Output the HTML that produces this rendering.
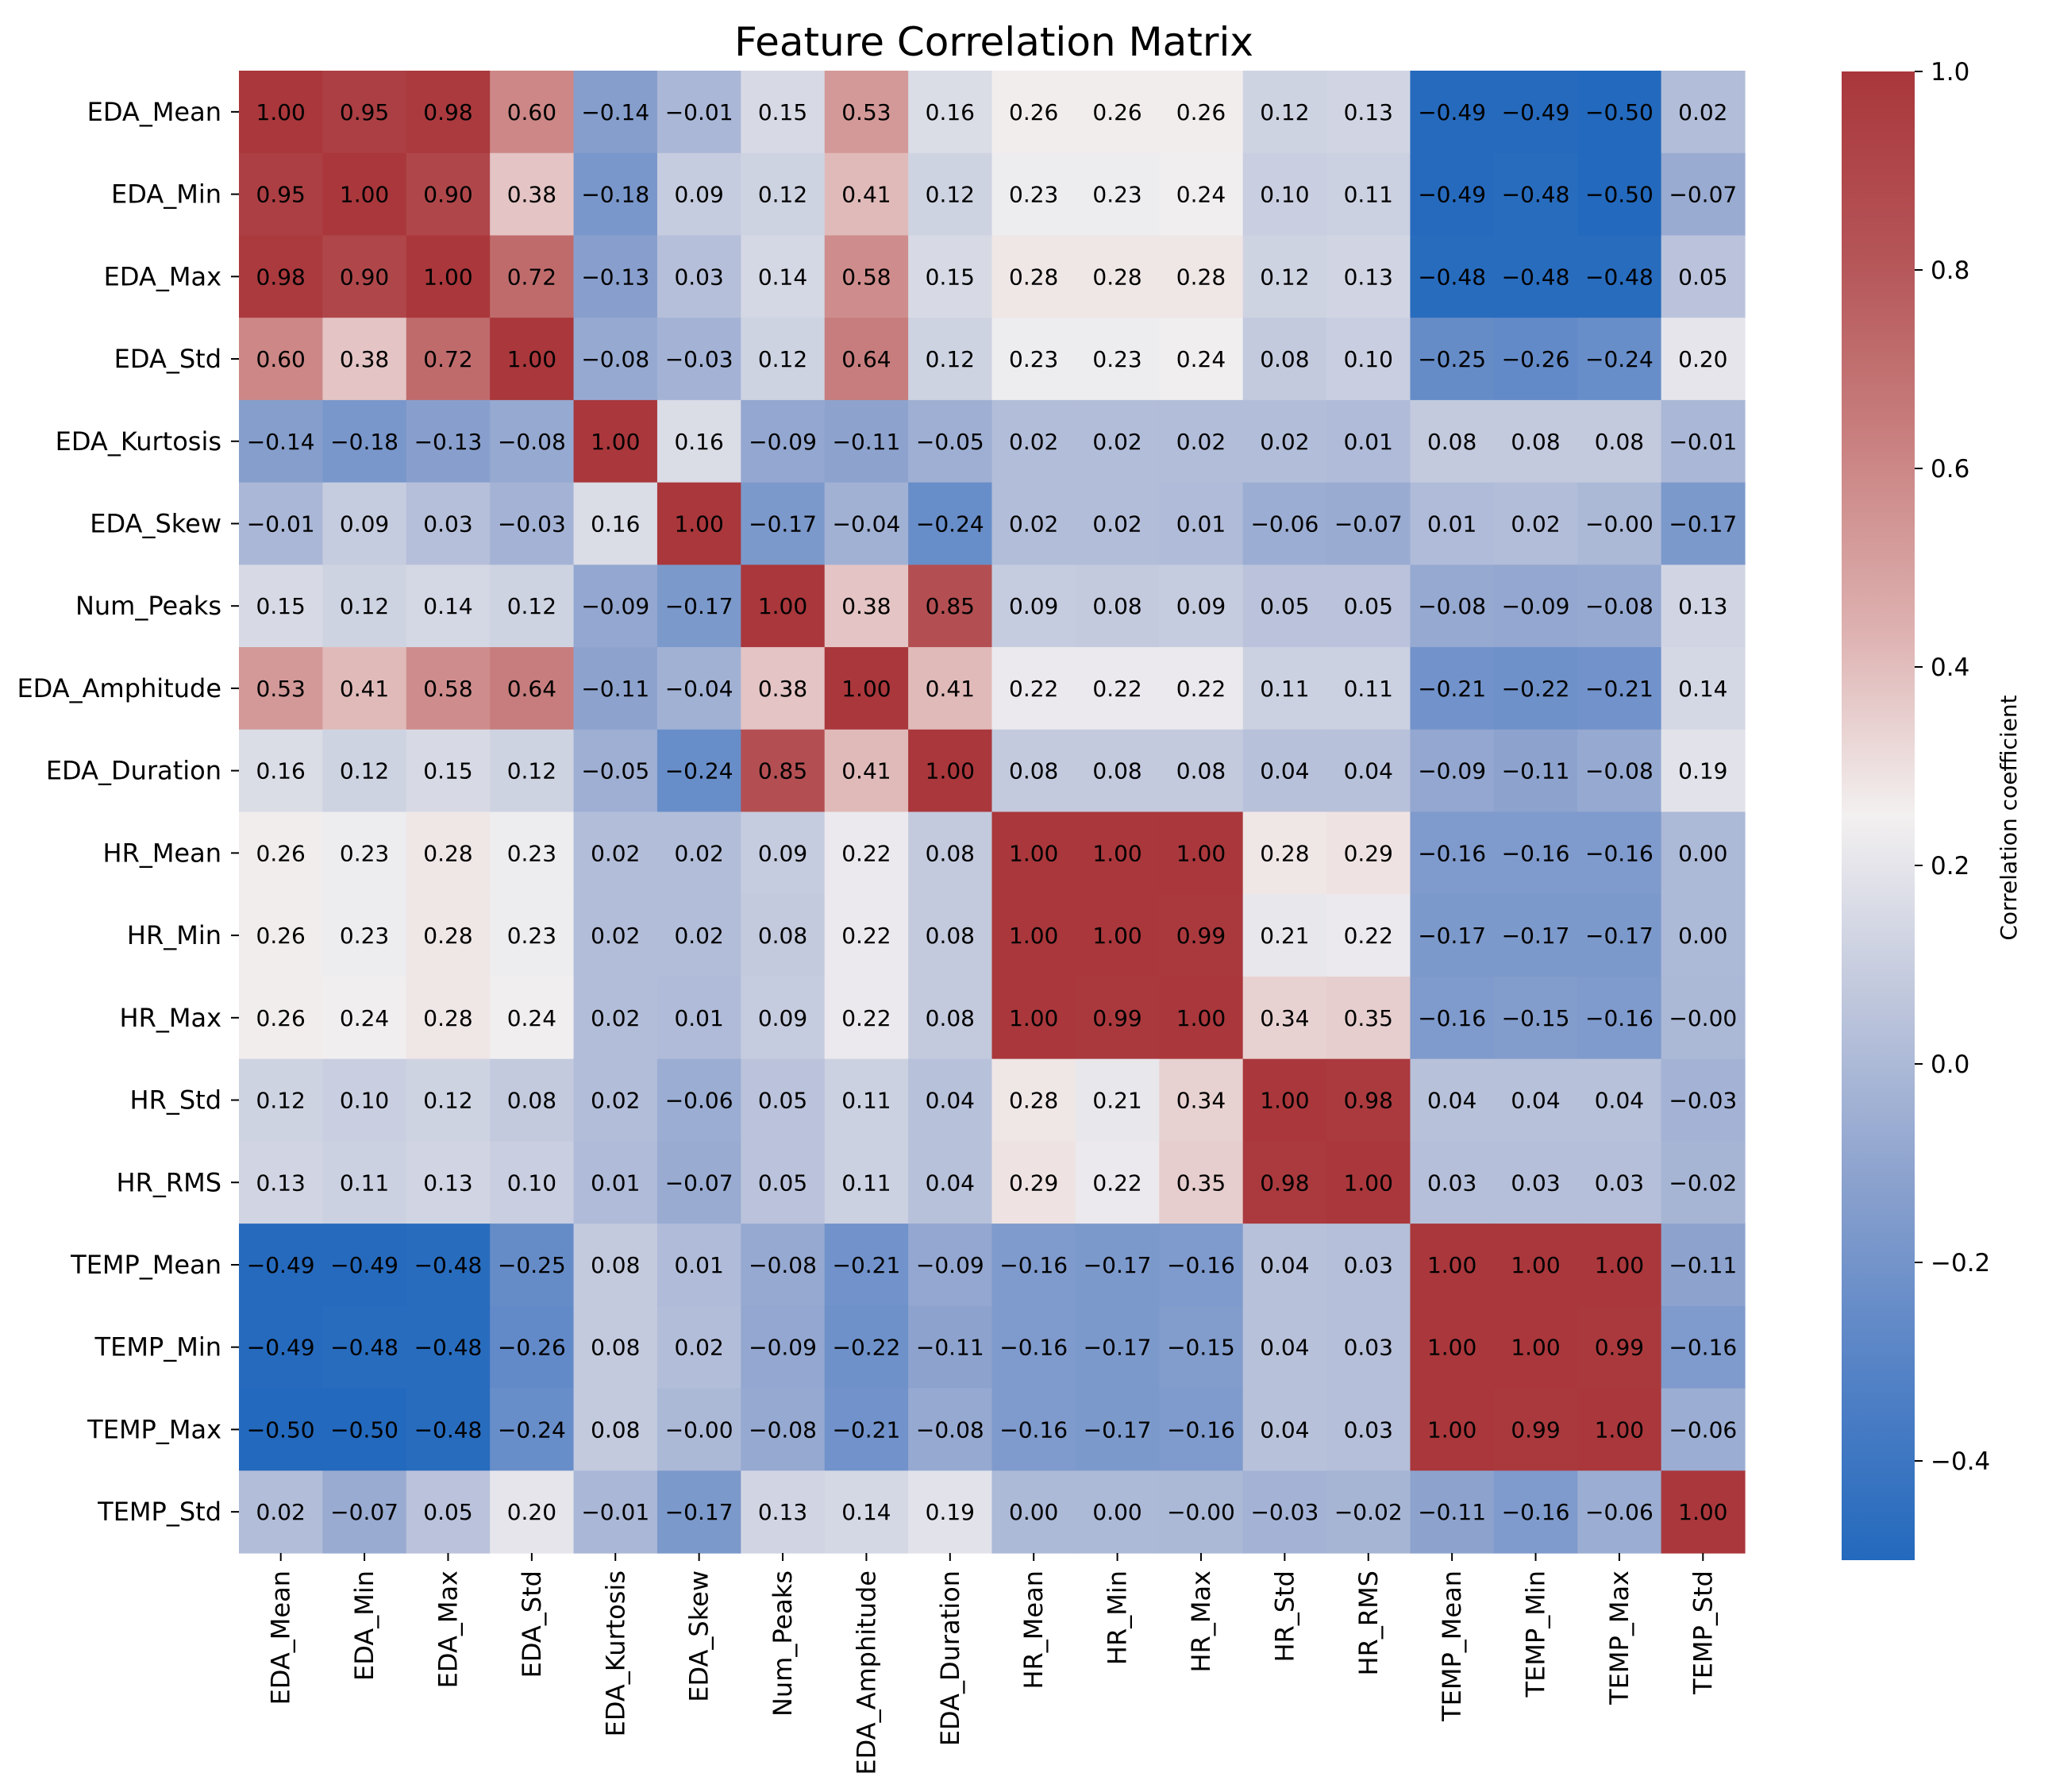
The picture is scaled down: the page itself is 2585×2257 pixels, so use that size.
<!DOCTYPE html>
<html><head><meta charset="utf-8">
<style>
html,body{margin:0;padding:0;background:#fff;}
svg{display:block;font-family:"DejaVu Sans","Liberation Sans",sans-serif;}
</style></head>
<body>
<svg id="chart" width="2585" height="2257" viewBox="0 0 2585 2257" xmlns="http://www.w3.org/2000/svg">
<rect width="2585" height="2257" fill="#fff"/>
<text x="1252" y="70" font-size="50" text-anchor="middle" fill="#000">Feature Correlation Matrix</text>
<g id="cells"></g>
<g id="annots"></g>
<g id="yaxis"></g>
<g id="xaxis"></g>
<defs>
<linearGradient id="cbgrad" x1="0" y1="1" x2="0" y2="0"></linearGradient>
</defs>
<rect x="2320" y="90" width="92" height="1875" fill="url(#cbgrad)"/>
<g id="cbaxis"></g>
<text x="0" y="0" font-size="28" text-anchor="middle" fill="#000" transform="translate(2540,1030) rotate(-90)">Correlation coefficient</text>
</svg>
<script>
const labels = ["EDA_Mean","EDA_Min","EDA_Max","EDA_Std","EDA_Kurtosis","EDA_Skew","Num_Peaks","EDA_Amphitude","EDA_Duration","HR_Mean","HR_Min","HR_Max","HR_Std","HR_RMS","TEMP_Mean","TEMP_Min","TEMP_Max","TEMP_Std"];
const rowEDA_Mean = [1.00,0.95,0.98,0.60,-0.14,-0.01,0.15,0.53,0.16,0.26,0.26,0.26,0.12,0.13,-0.49,-0.49,-0.50,0.02];
const rowEDA_Min = [0.95,1.00,0.90,0.38,-0.18,0.09,0.12,0.41,0.12,0.23,0.23,0.24,0.10,0.11,-0.49,-0.48,-0.50,-0.07];
const rowEDA_Max = [0.98,0.90,1.00,0.72,-0.13,0.03,0.14,0.58,0.15,0.28,0.28,0.28,0.12,0.13,-0.48,-0.48,-0.48,0.05];
const rowEDA_Std = [0.60,0.38,0.72,1.00,-0.08,-0.03,0.12,0.64,0.12,0.23,0.23,0.24,0.08,0.10,-0.25,-0.26,-0.24,0.20];
const rowEDA_Kurtosis = [-0.14,-0.18,-0.13,-0.08,1.00,0.16,-0.09,-0.11,-0.05,0.02,0.02,0.02,0.02,0.01,0.08,0.08,0.08,-0.01];
const rowEDA_Skew = [-0.01,0.09,0.03,-0.03,0.16,1.00,-0.17,-0.04,-0.24,0.02,0.02,0.01,-0.06,-0.07,0.01,0.02,-0.004,-0.17];
const rowNum_Peaks = [0.15,0.12,0.14,0.12,-0.09,-0.17,1.00,0.38,0.85,0.09,0.08,0.09,0.05,0.05,-0.08,-0.09,-0.08,0.13];
const rowEDA_Amphitude = [0.53,0.41,0.58,0.64,-0.11,-0.04,0.38,1.00,0.41,0.22,0.22,0.22,0.11,0.11,-0.21,-0.22,-0.21,0.14];
const rowEDA_Duration = [0.16,0.12,0.15,0.12,-0.05,-0.24,0.85,0.41,1.00,0.08,0.08,0.08,0.04,0.04,-0.09,-0.11,-0.08,0.19];
const rowHR_Mean = [0.26,0.23,0.28,0.23,0.02,0.02,0.09,0.22,0.08,1.00,1.00,1.00,0.28,0.29,-0.16,-0.16,-0.16,0.00];
const rowHR_Min = [0.26,0.23,0.28,0.23,0.02,0.02,0.08,0.22,0.08,1.00,1.00,0.99,0.21,0.22,-0.17,-0.17,-0.17,0.00];
const rowHR_Max = [0.26,0.24,0.28,0.24,0.02,0.01,0.09,0.22,0.08,1.00,0.99,1.00,0.34,0.35,-0.16,-0.15,-0.16,-0.004];
const rowHR_Std = [0.12,0.10,0.12,0.08,0.02,-0.06,0.05,0.11,0.04,0.28,0.21,0.34,1.00,0.98,0.04,0.04,0.04,-0.03];
const rowHR_RMS = [0.13,0.11,0.13,0.10,0.01,-0.07,0.05,0.11,0.04,0.29,0.22,0.35,0.98,1.00,0.03,0.03,0.03,-0.02];
const rowTEMP_Mean = [-0.49,-0.49,-0.48,-0.25,0.08,0.01,-0.08,-0.21,-0.09,-0.16,-0.17,-0.16,0.04,0.03,1.00,1.00,1.00,-0.11];
const rowTEMP_Min = [-0.49,-0.48,-0.48,-0.26,0.08,0.02,-0.09,-0.22,-0.11,-0.16,-0.17,-0.15,0.04,0.03,1.00,1.00,0.99,-0.16];
const rowTEMP_Max = [-0.50,-0.50,-0.48,-0.24,0.08,-0.004,-0.08,-0.21,-0.08,-0.16,-0.17,-0.16,0.04,0.03,1.00,0.99,1.00,-0.06];
const rowTEMP_Std = [0.02,-0.07,0.05,0.20,-0.01,-0.17,0.13,0.14,0.19,0.00,0.00,-0.004,-0.03,-0.02,-0.11,-0.16,-0.06,1.00];
const matrix = [rowEDA_Mean,rowEDA_Min,rowEDA_Max,rowEDA_Std,rowEDA_Kurtosis,rowEDA_Skew,rowNum_Peaks,rowEDA_Amphitude,rowEDA_Duration,rowHR_Mean,rowHR_Min,rowHR_Max,rowHR_Std,rowHR_RMS,rowTEMP_Mean,rowTEMP_Min,rowTEMP_Max,rowTEMP_Std];
const cbTicks = [1.0,0.8,0.6,0.4,0.2,0.0,-0.2,-0.4];
const vmin = -0.5, vmax = 1.0;

const NS = "http://www.w3.org/2000/svg";
const L = 301, R = 2198, T = 89, B = 1956;
const n = labels.length;
const cw = (R - L) / n, ch = (B - T) / n;
const xPos = i => L + i * cw;
const yPos = i => T + i * ch;
const cbTop = 90, cbH = 1875, cbRight = 2412;
const cbY = v => cbTop + (vmax - v) / (vmax - vmin) * cbH;

const stops = [[0,[35,105,189]],[0.125,[84,130,198]],[0.25,[137,160,205]],[0.375,[190,198,220]],[0.5,[243,240,240]],[0.625,[221,177,176]],[0.75,[201,129,128]],[0.875,[181,85,88]],[1,[169,55,59]]];
function cmap(v){
  let t = (v - vmin) / (vmax - vmin); t = Math.max(0, Math.min(1, t));
  for (let k = 1; k < stops.length; k++){
    if (t <= stops[k][0]){
      const a = stops[k-1], b = stops[k], f = (t - a[0]) / (b[0] - a[0]);
      const c = a[1].map((x, j) => Math.round(x + (b[1][j] - x) * f));
      return `rgb(${c[0]},${c[1]},${c[2]})`;
    }
  }
  return "rgb(169,55,59)";
}
function mk(tag, attrs){ const e = document.createElementNS(NS, tag); for (const k in attrs) e.setAttribute(k, attrs[k]); return e; }
function fmt(v){ const s = v.toFixed(2); return s.replace("-", "\u2212"); }

const grad = document.getElementById("cbgrad");
for (const s of stops){
  grad.appendChild(mk("stop", {offset: s[0], "stop-color": `rgb(${s[1].join(",")})`}));
}

const cells = document.getElementById("cells"), annots = document.getElementById("annots");
for (let r = 0; r < n; r++){
  for (let c = 0; c < n; c++){
    const v = matrix[r][c];
    const rect = mk("rect", {x: xPos(c), y: yPos(r), width: cw + 0.6, height: ch + 0.6, fill: cmap(v)});
    
    
    cells.appendChild(rect);
    const t = mk("text", {x: xPos(c) + cw/2, y: yPos(r) + ch/2 + 10, "font-size": 28, "text-anchor": "middle", fill: "#000"});
    t.textContent = fmt(v);
    
    
    annots.appendChild(t);
  }
}

const yaxis = document.getElementById("yaxis"), xaxis = document.getElementById("xaxis");
for (let i = 0; i < n; i++){
  const cy = yPos(i) + ch/2;
  yaxis.appendChild(mk("line", {x1: L - 10, x2: L, y1: cy, y2: cy, stroke: "#000", "stroke-width": 2}));
  const t = mk("text", {x: L - 22, y: cy + 11, "font-size": 32, "text-anchor": "end", fill: "#000"});
  t.textContent = labels[i];
  
  
  yaxis.appendChild(t);

  const cx = xPos(i) + cw/2;
  xaxis.appendChild(mk("line", {x1: cx, x2: cx, y1: B, y2: B + 10, stroke: "#000", "stroke-width": 2}));
  const tx = mk("text", {x: 0, y: 0, "font-size": 32, "text-anchor": "end", fill: "#000", transform: `translate(${cx + 11},${B + 22}) rotate(-90)`});
  tx.textContent = labels[i];
  
  
  xaxis.appendChild(tx);
}

const cbaxis = document.getElementById("cbaxis");
for (const v of cbTicks){
  const y = cbY(v);
  cbaxis.appendChild(mk("line", {x1: cbRight, x2: cbRight + 10, y1: y, y2: y, stroke: "#000", "stroke-width": 2}));
  const t = mk("text", {x: cbRight + 20, y: y + 11, "font-size": 31, fill: "#000"});
  t.textContent = v.toFixed(1).replace("-", "\u2212");
  
  
  cbaxis.appendChild(t);
}
</script>
</body></html>
